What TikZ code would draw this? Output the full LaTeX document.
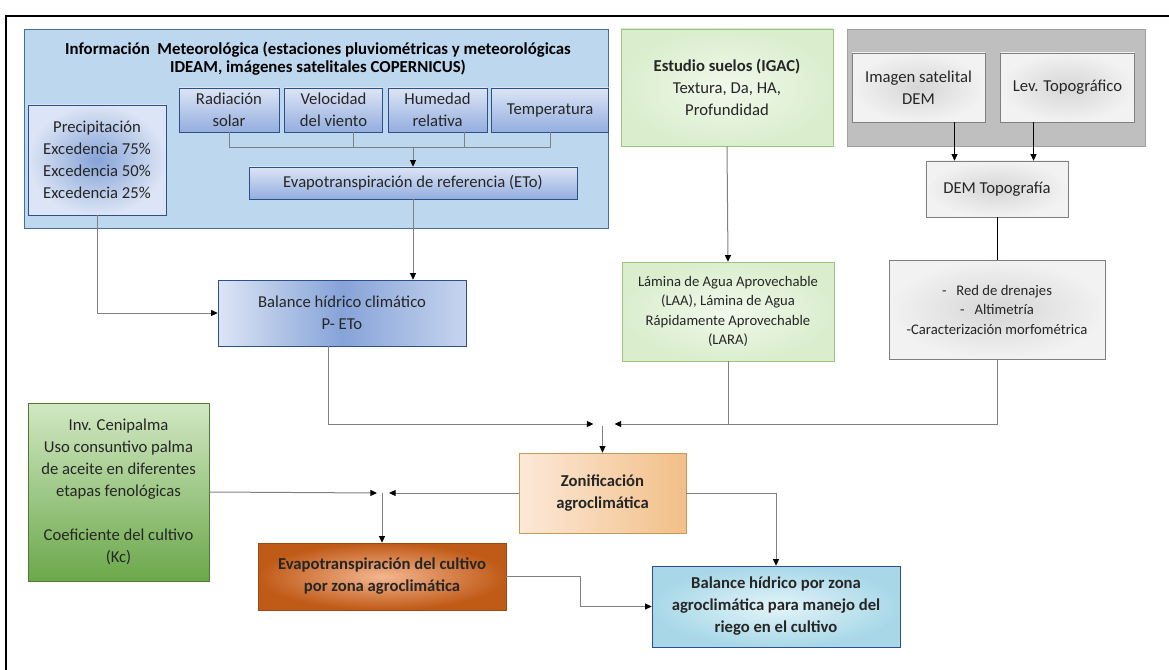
\documentclass[tikz,border=0pt]{standalone}
\usepackage{fontspec}
\setmainfont{Carlito}
\usetikzlibrary{arrows.meta, positioning, calc}

\definecolor{txt}{HTML}{262626}
\definecolor{wirec}{HTML}{808080}
\definecolor{metfill}{HTML}{BDD7EE}
\definecolor{metdraw}{HTML}{4A6F96}
\definecolor{blueA}{HTML}{DCE5F5}
\definecolor{blueB}{HTML}{94AEDF}
\definecolor{blueC}{HTML}{86A3D8}
\definecolor{bluedraw}{HTML}{2F4F8A}
\definecolor{greenA}{HTML}{F1F8EC}
\definecolor{greenB}{HTML}{DAEECD}
\definecolor{greendraw}{HTML}{9CC47F}
\definecolor{grisfill}{HTML}{BFBFBF}
\definecolor{grisdraw}{HTML}{A0A0A0}
\definecolor{grayA}{HTML}{D6D6D6}
\definecolor{grayB}{HTML}{F2F2F2}
\definecolor{graydraw}{HTML}{7F7F7F}
\definecolor{ceniA}{HTML}{D2E8C4}
\definecolor{ceniB}{HTML}{6BA84A}
\definecolor{cenidraw}{HTML}{4E7A32}
\definecolor{zonA}{HTML}{FCE9D8}
\definecolor{zonB}{HTML}{F2BF88}
\definecolor{zondraw}{HTML}{C49A56}
\definecolor{evcA}{HTML}{F4B690}
\definecolor{evcB}{HTML}{C05A17}
\definecolor{evcdraw}{HTML}{9A4A16}
\definecolor{waterA}{HTML}{E3F4F9}
\definecolor{waterB}{HTML}{A8D8E8}
\definecolor{waterdraw}{HTML}{2F4F8A}

\tikzset{
    box/.style={rectangle, align=center, inner sep=2pt, text=txt, font=\fontsize{12.5}{16.5}\selectfont},
    sz/.style 2 args={minimum width=#1*0.75pt, minimum height=#2*0.75pt},
    small/.style={font=\fontsize{11}{14.6}\selectfont},
    bold/.style={font=\fontsize{12.5}{16.5}\selectfont\bfseries},
    bluebox/.style={box, draw=bluedraw, top color=blueA, bottom color=blueB},
    greenbox/.style={box, draw=greendraw, inner color=greenA, outer color=greenB},
    graybox/.style={box, draw=graydraw, inner color=grayA, outer color=grayB},
    wire/.style={draw=wirec, line width=0.75pt},
    arr/.style={wire, -{Triangle[length=5pt, width=4.5pt, color=black]}}
}

\begin{document}
\begin{tikzpicture}[x=0.75pt, y=-0.75pt]
                \useasboundingbox (0,0) rectangle (1169,670);
                \fill[white] (0,0) rectangle (1169,670);
                \draw[line width=2pt] (6,670) -- (6,16) -- (1169,16);

                \node[box, draw=metdraw, fill=metfill, sz={584}{199}] (met) at (316,128.5) {};
                \node[align=center, text=black, font=\fontsize{12.6}{13.6}\selectfont\bfseries] (met_title) at (318,59)
                        {Información~ Meteorológica (estaciones pluviométricas y meteorológicas\\IDEAM, imágenes satelitales COPERNICUS)};
                \node[bluebox, sz={100}{44}] (rad) at (229,110) {Radiación\\solar};
                \node[bluebox, sz={98}{44}, right=3.75pt of rad] (vel) {Velocidad\\del viento};
                \node[bluebox, sz={99}{44}, right=3.75pt of vel] (hum) {Humedad\\relativa};
                \node[bluebox, sz={117}{44}, right=3pt of hum] (temp) {Temperatura};
                \node[bluebox, sz={328}{32}] (eto) at (413,183) {Evapotranspiración de referencia (ETo)};
                \node[box, draw=bluedraw, inner color=blueC, outer color=blueA, sz={138}{110}] (prec) at (97,160)
                        {Precipitación\\Excedencia 75\%\\Excedencia 50\%\\Excedencia 25\%};
                \node[box, draw=bluedraw, left color=blueA, right color=blueA!70!blueB, middle color=blueC, sz={248}{66}] (bal_clim) at (342,313)
                        {Balance hídrico climático\\P- ETo};

                \node[greenbox, sz={212}{117}] (suelos) at (727,87.5) {\textbf{Estudio suelos (IGAC)}\\Textura, Da, HA,\\Profundidad};
                \node[greenbox, small, sz={212}{99}] (laa) at (728,311.5)
                        {Lámina de Agua Aprovechable\\(LAA), Lámina de Agua\\Rápidamente Aprovechable\\(LARA)};

                \node[box, draw=grisdraw, fill=grisfill, sz={298}{117}] (topo_grp) at (996,87.5) {};
                \node[graybox, sz={133}{69}] (sat) at (918.5,87.5) {Imagen satelital\\DEM};
                \node[graybox, sz={134}{69}, right=11.25pt of sat] (lev) {Lev. Topográfico};
                \node[graybox, sz={142}{56}] (dem) at (997,189) {DEM Topografía};
                \node[graybox, small, sz={216}{99}] (drenajes) at (997,309.5)
                        {-\ \ \ Red de drenajes\\-\ \ \ Altimetría\\-Caracterización morfométrica};

                \node[box, draw=cenidraw, top color=ceniA, bottom color=ceniB, sz={181}{178}] (ceni) at (118.5,492)
                        {Inv. Cenipalma\\Uso consuntivo palma\\de aceite en diferentes\\etapas fenológicas\\[16.5pt]Coeficiente del cultivo\\(Kc)};
                \node[box, bold, draw=zondraw, left color=zonA, right color=zonB, sz={167}{80}] (zon) at (602.5,493)
                        {Zonificación\\agroclimática};
                \node[box, bold, draw=evcdraw, inner color=evcA, outer color=evcB, sz={248}{67}] (etc_cult) at (382,576.5)
                        {Evapotranspiración del cultivo\\por zona agroclimática};
                \node[box, bold, draw=waterdraw, inner color=waterA, outer color=waterB, sz={248}{81}] (bal_zona) at (776,606.5)
                        {Balance hídrico por zona\\agroclimática para manejo del\\riego en el cultivo};

                \coordinate (bus) at (413,147);
                \coordinate (zin) at (602.5,424);
                \coordinate (cin) at (382,493);

                \draw[wire] (rad.south) -- ++(0,15) -| (temp.south);
                \draw[wire] ([xshift=15pt]vel.south) -- ++(0,15);
                \draw[wire] ([xshift=20pt]hum.south) -- ++(0,15);
                \draw[arr] (bus) -- (eto.north);
                \draw[arr] (prec.south) |- (bal_clim.west);
                \draw[arr] (eto.south) -- (eto.south |- bal_clim.north);
                \draw[arr, draw=black] ([xshift=27pt]sat.south) -- ([xshift=27pt]sat.south |- dem.north);
                \draw[arr, draw=black] ([xshift=-25.5pt]lev.south) -- ([xshift=-25.5pt]lev.south |- dem.north);
                \draw[wire, draw=black] (dem.south) -- (drenajes.north);
                \draw[arr] (suelos.south) -- (laa.north);
                \draw[arr] ([xshift=-10pt]bal_clim.south) |- ([xshift=-6.75pt]zin);
                \draw[arr] (drenajes.south) |- ([xshift=9pt]zin);
                \draw[wire] (laa.south) -- (laa.south |- zin);
                \draw[arr] ([yshift=-1.5pt]zin) -- (zon.north);
                \draw[arr] (ceni.east) -- ([xshift=-3.75pt]cin);
                \draw[arr] (zon.west) -- ([xshift=5.25pt]cin);
                \draw[arr] (cin) -- (etc_cult.north);
                \draw[arr] (zon.east) -| (bal_zona.north);
                \draw[arr] (etc_cult.east) -- ++(74,0) |- (bal_zona.west);
        \end{tikzpicture}
\end{document}
